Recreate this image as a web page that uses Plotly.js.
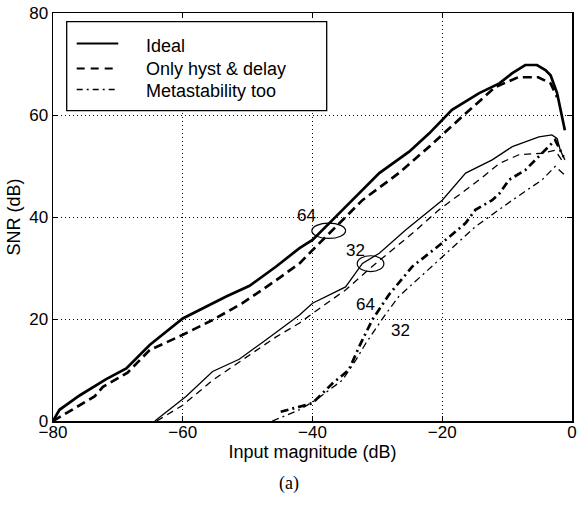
<!DOCTYPE html>
<html>
<head>
<meta charset="utf-8">
<script src="https://cdn.plot.ly/plotly-3.0.1.min.js"></script>
<style>html,body{margin:0;padding:0;background:#fff;}#chart{width:577px;height:506px;}</style>
</head>
<body>
<div id="chart"></div>
<script>
// ---- data ----
var ideal64X = [-80,-79,-75.9,-71.8,-68.7,-65.1,-60,-53.3,-49.7,-45.6,-42,-40,-37.4,-33.8,-29.7,-25.1,-22,-18.5,-14.3,-11.2,-9.2,-7.2,-5.4,-4.1,-3.3,-2.3,-1.5,-1.1];
var ideal64Y = [0,2.2,5,8.2,10.3,14.9,20.1,24.4,26.5,30.3,33.9,35.5,38.8,43.3,48.6,52.8,56.4,61,64.3,66.2,68.2,69.8,69.8,68.8,67.8,64.3,59.7,57];

var hyst64X = [-80,-75.9,-73.6,-72.3,-68.5,-65.1,-60,-55.4,-50.8,-45.6,-42,-40,-37.4,-32.3,-26.7,-22,-16.4,-11.8,-8.3,-5.2,-3.3,-2.3];
var hyst64Y = [0,3.1,4.8,6.7,9.5,13.9,16.9,19.8,23.1,27.6,30.9,33.5,36.8,43.3,48.6,53.8,60.3,65.5,67.4,67.4,66.2,63.5];

var ideal32X = [-64.3,-59.5,-55.4,-51.3,-47.2,-42,-40,-34.9,-32.3,-29.7,-25.6,-20,-16.4,-12.3,-9.2,-5.1,-3.1,-2.3,-1.8,-1.1];
var ideal32Y = [0,4.8,9.7,12.1,15.9,20.8,23.1,26.3,30.9,32.9,37.5,43.3,48.6,51.2,53.8,55.7,56.1,55.4,53.1,51.2];

var hyst32X = [-64,-60,-55.4,-50.2,-45.6,-42,-40,-34.9,-30.8,-24.6,-20.5,-18.5,-14.3,-11.2,-8.2,-4.6,-2.6,-1.6];
var hyst32Y = [0,3.1,8,12.6,16.5,19.2,21.1,25.7,30.3,36.8,41.4,43.3,47.3,50.5,52.2,52.5,53.1,51.2];

var meta64X = [-44.9,-40,-36.9,-34.4,-32.8,-30.8,-28.2,-24.6,-20.5,-16.4,-14.9,-12.3,-11.2,-9.7,-7.2,-5.2,-2.6,-1.3];
var meta64Y = [1.8,3.5,7.4,10,14.6,19.8,24.8,30.3,34.4,38.8,41.4,43.3,44.6,47.3,49.2,51.8,55.1,51.8];

var meta32X = [-46.2,-42,-39.5,-35.4,-33.3,-31.8,-28.7,-26.7,-20.5,-14.9,-9.2,-4.6,-2.6,-0.8];
var meta32Y = [0,2.2,4.1,8,12,15.2,21,24.4,31.6,38.1,43.3,47.3,49.9,47.9];

var legendLabels = ["Ideal", "Only hyst & delay", "Metastability too"];
var xTicks = [-80, -60, -40, -20, 0];
var yTicks = [0, 20, 40, 60, 80];

// ---- plot ----
var thick = 2.7, thin = 1.3;
function tr(x, y, w, dash, name) {
  return {x: x, y: y, type: 'scatter', mode: 'lines', name: name, showlegend: false,
          line: {color: '#000', width: w, dash: dash}, hoverinfo: 'skip'};
}
var data = [
  tr(ideal64X, ideal64Y, thick, 'solid', 'Ideal (64)'),
  tr(hyst64X, hyst64Y, thick, '9px,5px', 'Only hyst & delay (64)'),
  tr(ideal32X, ideal32Y, thin, 'solid', 'Ideal (32)'),
  tr(hyst32X, hyst32Y, thin, '7px,5px', 'Only hyst & delay (32)'),
  tr(meta64X, meta64Y, thick, '8px,4px,2px,4px', 'Metastability too (64)'),
  tr(meta32X, meta32Y, thin, '7px,4px,2px,4px', 'Metastability too (32)')
];

var FONT = 'Liberation Sans, Arial, Helvetica, sans-serif';
var L = 53, T = 13, W = 519, H = 408;
function px2x(p) { return (p - L) / W; }
function px2y(p) { return 1 - (p - T) / H; }

var shapes = [
  // ellipses marking the two pairs
  {type: 'circle', xref: 'x', yref: 'y', x0: -40.1, x1: -34.9, y0: 35.8, y1: 38.8, line: {color: '#000', width: 1.2}},
  {type: 'circle', xref: 'x', yref: 'y', x0: -33.1, x1: -29.0, y0: 29.3, y1: 32.4, line: {color: '#000', width: 1.2}},
  // legend box
  {type: 'rect', xref: 'paper', yref: 'paper', x0: px2x(66.7), x1: px2x(326.7), y0: px2y(110.7), y1: px2y(21.7),
   fillcolor: '#fff', line: {color: '#000', width: 1.3}, layer: 'above'},
  {type: 'line', xref: 'paper', yref: 'paper', x0: px2x(76.7), x1: px2x(118.3), y0: px2y(43.5), y1: px2y(43.5), line: {color: '#000', width: 1.8}, layer: 'above'},
  {type: 'line', xref: 'paper', yref: 'paper', x0: px2x(76.7), x1: px2x(118.3), y0: px2y(68.5), y1: px2y(68.5), line: {color: '#000', width: 1.8, dash: '8px,6px'}, layer: 'above'},
  {type: 'line', xref: 'paper', yref: 'paper', x0: px2x(76.7), x1: px2x(118.3), y0: px2y(89.5), y1: px2y(89.5), line: {color: '#000', width: 1.5, dash: '6px,4px,2px,4px'}, layer: 'above'}
];

function ann(text, x, y, size) {
  return {text: text, x: x, y: y, xref: 'x', yref: 'y', showarrow: false, font: {family: FONT, size: size || 17, color: '#000'}};
}
var annotations = [
  ann('64', -41, 40.3), ann('32', -33.4, 33.5), ann('64', -31.9, 22.9), ann('32', -26.4, 17.7)
];
var legendY = [46.3, 69.0, 91.0];
for (var i = 0; i < legendLabels.length; i++) {
  annotations.push({text: legendLabels[i], xref: 'paper', yref: 'paper', x: px2x(144), y: px2y(legendY[i]),
    xanchor: 'left', yanchor: 'middle', showarrow: false, font: {family: FONT, size: 18, color: '#000'}});
}
annotations.push({text: '(a)', xref: 'paper', yref: 'paper', x: px2x(289), y: px2y(484), xanchor: 'center', yanchor: 'middle',
  showarrow: false, font: {family: 'Liberation Serif, Times New Roman, serif', size: 18, color: '#000'}});

var axisCommon = {
  showline: true, linecolor: '#000', linewidth: 1.5, mirror: 'ticks',
  ticks: 'inside', ticklen: 5, tickwidth: 1, tickcolor: '#000',
  showgrid: true, gridcolor: '#000', gridwidth: 1, griddash: '1px,3px',
  zeroline: false, tickfont: {family: FONT, size: 17, color: '#000'}
};
var layout = {
  width: 577, height: 506,
  margin: {l: L, r: 577 - L - W, t: T, b: 506 - T - H},
  paper_bgcolor: '#fff', plot_bgcolor: '#fff',
  showlegend: false,
  xaxis: Object.assign({}, axisCommon, {range: [-80, 0], tickmode: 'array', tickvals: xTicks, ticklabelstandoff: -5,
    title: {text: 'Input magnitude (dB)', font: {family: FONT, size: 18, color: '#000'}, standoff: 0}}),
  yaxis: Object.assign({}, axisCommon, {range: [0, 80], tickmode: 'array', tickvals: yTicks,
    title: {text: 'SNR (dB)', font: {family: FONT, size: 18, color: '#000'}, standoff: 4}}),
  shapes: shapes,
  annotations: annotations
};
Plotly.newPlot('chart', data, layout, {displayModeBar: false, staticPlot: true});
</script>
</body>
</html>
